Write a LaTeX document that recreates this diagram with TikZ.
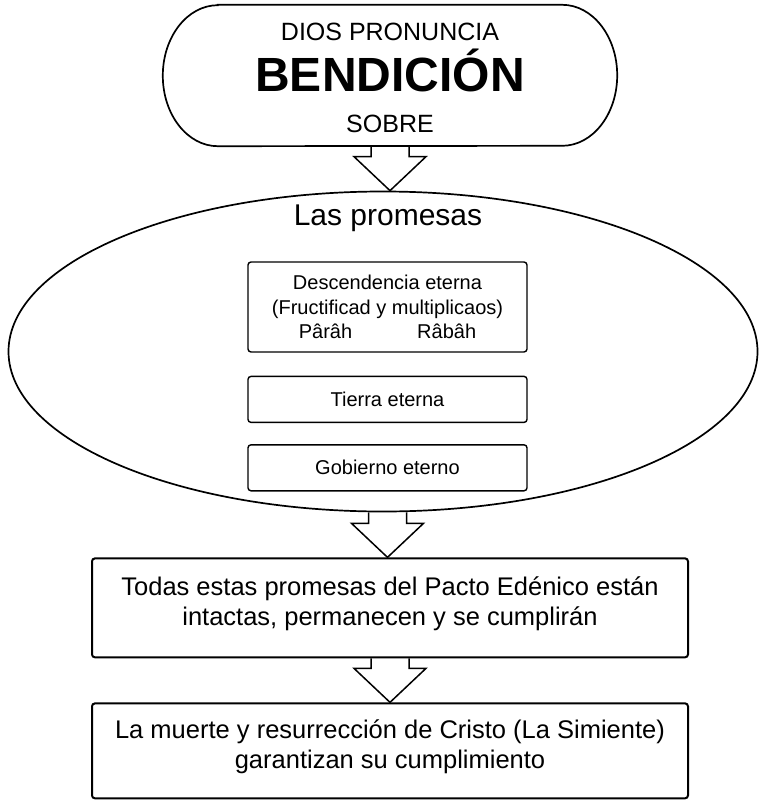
\documentclass[tikz,border=0pt]{standalone}
\usepackage{fontspec}
\setmainfont{Liberation Sans}
\usetikzlibrary{shapes.geometric, positioning, calc}

% block arrow from a point down to the top of a node
\newcommand{\flecha}[2]{%
  \draw[blockarrow] ($(#1)+(-19,0)$) |- ($(#1 |- #2.north)+(-36,34)$)
    -- (#1 |- #2.north) -- ($(#1 |- #2.north)+(36,34)$) -| ($(#1)+(19,0)$);}
% extra depth so the text sits a little high in its box
\newcommand{\bajo}{\rule[-13pt]{0pt}{13pt}}

\begin{document}
\begin{tikzpicture}[
    x=1pt, y=1pt,
    outline/.style={draw, line width=1.7pt},
    promesa/.style={rectangle, draw, rounded corners=3pt, line width=1.4pt, minimum width=279pt, font=\fontsize{20}{24.5}\selectfont, align=center},
    cuadro/.style={rectangle, draw, rounded corners=3pt, line width=2pt, minimum width=596pt, font=\fontsize{25.5}{30}\selectfont, align=center},
    blockarrow/.style={line width=1.5pt, line join=miter}
]
    \useasboundingbox (0,0) rectangle (759,-800);

    % Title
    \node[minimum width=454pt, minimum height=141pt] (dios) at (390,-75.5) {};
    \draw[outline] ($(dios.north west)+(55,0)$) -- ($(dios.north east)+(-55,0)$)
        arc[start angle=90, end angle=-90, x radius=55, y radius=70.5]
        -- ($(dios.south west)+(55,0)$)
        arc[start angle=270, end angle=90, x radius=55, y radius=70.5] -- cycle;
    \node[anchor=base, font=\fontsize{25}{30}\selectfont] (pronuncia) at ($(dios.center)+(0,34.5)$) {DIOS PRONUNCIA};
    \node[anchor=base, font=\fontsize{48}{56}\selectfont\bfseries] (bendicion) at ($(dios.center)+(0,-16.5)$) {BENDICIÓN};
    \node[anchor=base, font=\fontsize{25}{30}\selectfont] (sobre) at ($(dios.center)+(0,-56.5)$) {SOBRE};

    % The promises
    \node[ellipse, draw, line width=1.7pt, minimum width=749pt, minimum height=320pt] (promesas) at (383,-351.5) {};
    \node[anchor=base, font=\fontsize{30}{36}\selectfont] (titulo) at (388,-225) {Las promesas};

    \node[promesa, minimum height=90pt] (desc) at (387.5,-307) {Descendencia eterna\\(Fructificad y multiplicaos)\\Pârâh\hspace{65pt}Râbâh};
    \node[promesa, minimum height=46pt, below=23pt of desc] (tierra) {Tierra eterna};
    \node[promesa, minimum height=46pt, below=21pt of tierra] (gob) {Gobierno eterno};

    % Conclusions
    \node[cuadro, minimum height=99pt, below=45pt of promesas, xshift=7pt] (cumplen) {Todas estas promesas del Pacto Edénico están\\intactas, permanecen y se cumplirán\bajo};
    \node[cuadro, minimum height=95pt, below=44pt of cumplen] (cristo) {La muerte y resurrección de Cristo (La Simiente)\\garantizan su cumplimiento\bajo};

    % Arrows
    \coordinate (salida) at (promesas.south -| gob.south);
    \flecha{dios.south}{promesas}
    \flecha{salida}{cumplen}
    \flecha{cumplen.south}{cristo}

\end{tikzpicture}
\end{document}
